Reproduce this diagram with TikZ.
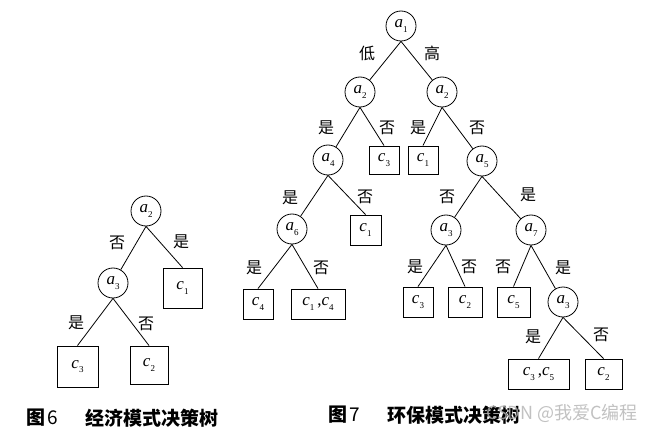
\documentclass[tikz,border=0pt]{standalone}
\usepackage{fontspec}
\setmainfont{Liberation Serif}
\newfontfamily\cjk{Noto Sans CJK SC}
\newcommand\av[2]{\textit{#1}\raisebox{-0.55ex}{\fontsize{9}{9}\selectfont #2}}
\tikzset{
  dn/.style={circle, draw, line width=0.8pt, minimum size=30pt, inner sep=0pt, font=\fontsize{17}{17}\selectfont},
  lf/.style={rectangle, draw, line width=0.9pt, minimum height=30pt, minimum width=30pt, inner sep=0pt, font=\fontsize{17}{17}\selectfont},
  ed/.style={line width=0.8pt},
  yl/.style={font=\cjk\fontsize{16}{16}\selectfont, inner sep=0pt},
  capt/.style={font=\cjk\bfseries\fontsize{19}{19}\selectfont, inner sep=0pt, anchor=west},
  captn/.style={font=\cjk\fontsize{19}{19}\selectfont, inner sep=0pt, anchor=west},
  wm/.style={font=\cjk\fontsize{18}{18}\selectfont, inner sep=0pt, anchor=west, text=black!30, opacity=0.8}
}
\begin{document}
\begin{tikzpicture}[x=1pt,y=-1pt]
\useasboundingbox (0,0) rectangle (667,433);
% ---------- Figure 6 ----------
\node[dn] (f6a2) at (146,211) {\av{a}{2}};
\node[dn] (f6a3) at (113,283) {\av{a}{3}};
\node[lf, minimum width=39pt, minimum height=40pt] (f6c1) at (182.5,288) {\av{c}{1}};
\node[lf, minimum width=41pt, minimum height=41pt] (f6c3) at (77.5,366.5) {\av{c}{3}};
\node[lf, minimum width=38pt, minimum height=38pt] (f6c2) at (149,365) {\av{c}{2}};
\draw[ed] (f6a2.south) -- (f6a3);
\draw[ed] (f6a2.south) -- (f6c1.north);
\draw[ed] (f6a3.south) -- (f6c3.north);
\draw[ed] (f6a3.south) -- (f6c2.north);
\node[yl] (l61) at (117,243) {否};
\node[yl] (l62) at (181,242) {是};
\node[yl] (l63) at (76,323) {是};
\node[yl] (l64) at (146,324) {否};
\node[capt] (c6a) at (26,418) {图};
\node[captn] (c6b) at (47,418) {6};
\node[capt] (c6c) at (85,418) {经济模式决策树};
% ---------- Figure 7 ----------
\node[dn] (a1) at (401,26) {\av{a}{1}};
\node[dn] (a2l) at (360,92) {\av{a}{2}};
\node[dn] (a2r) at (442,92) {\av{a}{2}};
\node[dn] (a4) at (328,160) {\av{a}{4}};
\node[lf, minimum height=28pt] (c3a) at (384,160) {\av{c}{3}};
\node[lf, minimum height=28pt] (c1a) at (423,160) {\av{c}{1}};
\node[dn] (a5) at (482,161) {\av{a}{5}};
\node[dn] (a6) at (292,229) {\av{a}{6}};
\node[lf, minimum width=31pt] (c1b) at (365.5,230) {\av{c}{1}};
\node[dn] (a3l) at (446,230) {\av{a}{3}};
\node[dn] (a7) at (531,230) {\av{a}{7}};
\node[lf] (c4) at (258,304) {\av{c}{4}};
\node[lf, minimum width=54pt] (c14) at (318,304) {\av{c}{1}\,,\av{c}{4}};
\node[lf] (c3b) at (418,302) {\av{c}{3}};
\node[lf, minimum width=34pt] (c2a) at (465,302) {\av{c}{2}};
\node[lf, minimum width=33pt] (c5) at (513.5,302) {\av{c}{5}};
\node[dn] (a3r) at (563,302) {\av{a}{3}};
\node[lf, minimum width=61pt] (c35) at (538.5,374) {\av{c}{3}\,,\av{c}{5}};
\node[lf, minimum width=37pt] (c2b) at (603.5,374) {\av{c}{2}};
\draw[ed] (a1.south) -- (a2l);
\draw[ed] (a1.south) -- (a2r);
\draw[ed] (a2l.south) -- (a4);
\draw[ed] (a2l.south) -- (c3a.north);
\draw[ed] (a2r.south) -- (c1a.north);
\draw[ed] (a2r.south) -- (a5);
\draw[ed] (a4.south) -- (a6);
\draw[ed] (a4.south) -- (c1b.north);
\draw[ed] (a5.south) -- (a3l);
\draw[ed] (a5.south) -- (a7);
\draw[ed] (a6.south) -- (c4.north);
\draw[ed] (a6.south) -- (c14.north);
\draw[ed] (a3l.south) -- (c3b.north);
\draw[ed] (a3l.south) -- (c2a.north);
\draw[ed] (a7.south) -- (c5.north);
\draw[ed] (a7.south) -- (a3r);
\draw[ed] (a3r.south) -- (c35.north);
\draw[ed] (a3r.south) -- (c2b.north);
\node[yl] (m1) at (367,53) {低};
\node[yl] (m2) at (432,53) {高};
\node[yl] (m3) at (326,128) {是};
\node[yl] (m4) at (387,128) {否};
\node[yl] (m5) at (418,128) {是};
\node[yl] (m6) at (477,128) {否};
\node[yl] (m7) at (290,198) {是};
\node[yl] (m8) at (365,197) {否};
\node[yl] (m9) at (447,197) {否};
\node[yl] (m10) at (528,195) {是};
\node[yl] (m11) at (254,268) {是};
\node[yl] (m12) at (321,268) {否};
\node[yl] (m13) at (415,267) {是};
\node[yl] (m14) at (469,267) {否};
\node[yl] (m15) at (503,267) {否};
\node[yl] (m16) at (563,268) {是};
\node[yl] (m17) at (533,337) {是};
\node[yl] (m18) at (601,335) {否};
\node[capt] (c7a) at (328,415) {图};
\node[captn] (c7b) at (349,415) {7};
\node[capt] (c7c) at (387,415) {环保模式决策树};
\node[wm] (wmk) at (486,413) {CSDN @我爱C编程};
\end{tikzpicture}
\end{document}
